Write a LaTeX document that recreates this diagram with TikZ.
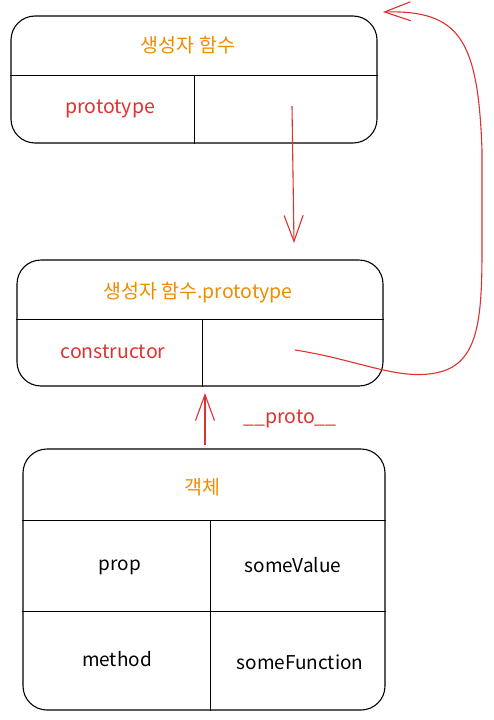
\documentclass[tikz,border=0pt]{standalone}
\usepackage{fontspec}
\setmainfont{Noto Sans CJK KR}
\usetikzlibrary{arrows.meta,positioning}
\definecolor{exred}{HTML}{E03131}
\definecolor{exorange}{HTML}{F08C00}

\begin{document}
\begin{tikzpicture}[
  x=1pt, y=-1pt,
  box/.style={draw, rounded corners=24pt, line width=1.1pt, inner sep=0pt},
  title/.style={font=\fontsize{19.5}{22}\selectfont, text=exorange},
  key/.style={font=\fontsize{19.5}{22}\selectfont, text=exred},
  val/.style={font=\fontsize{19}{22}\selectfont},
  sep/.style={line width=1.1pt},
  arr/.style={-{Straight Barb[length=26pt, width=19pt]}, exred, line width=1.1pt}
]
\fill[white] (0,0) rectangle (494,720);
\useasboundingbox (0,0) rectangle (494,720);

% constructor function
\node[box, minimum width=366pt, minimum height=127pt] (fnbox) at (194,79.5) {};
\draw[sep] ([yshift=-60pt]fnbox.north west) -- ([yshift=-60pt]fnbox.north east);
\draw[sep] ([xshift=184pt, yshift=-60pt]fnbox.north west) -- ([xshift=184pt]fnbox.south west);
\node[title] (fntitle) at (188,45) {생성자 함수};
\node[key] (fnkey) at (110,109) {prototype};

% prototype object
\node[box, minimum width=366pt, minimum height=126pt] (protobox) at (200,323) {};
\draw[sep] ([yshift=-60pt]protobox.north west) -- ([yshift=-60pt]protobox.north east);
\draw[sep] ([xshift=186pt, yshift=-60pt]protobox.north west) -- ([xshift=186pt]protobox.south west);
\node[title] (prototitle) at (198,293) {생성자 함수.prototype};
\node[key] (protokey) at (113,352) {constructor};

% instance
\node[box, minimum width=362pt, minimum height=261pt] (objbox) at (204,579.5) {};
\draw[sep] ([yshift=-72pt]objbox.north west) -- ([yshift=-72pt]objbox.north east);
\draw[sep] ([yshift=-163pt]objbox.north west) -- ([yshift=-163pt]objbox.north east);
\draw[sep] ([xshift=188pt, yshift=-72pt]objbox.north west) -- ([xshift=188pt]objbox.south west);
\node[title] (objtitle) at (202,487) {객체};
\node[val] (propkey) at (120,567) {prop};
\node[val] (propval) at (293,565) {someValue};
\node[val] (methkey) at (117,659) {method};
\node[val] (methval) at (300,662) {someFunction};

% links
\coordinate (fnref) at (292,106);
\coordinate (fnrefend) at (294,243);
\coordinate (protoref) at (295,350);
\coordinate (fntop) at (383,12);
\coordinate (objup) at (205,445);
\coordinate (protoin) at (205,393);

\draw[arr] (fnref) -- (fnrefend);
\draw[arr] (objup) -- (protoin);
\node[key] (protolink) at (290,419) {\_\_proto\_\_};
\draw[arr] (protoref) .. controls (360,360) and (400,382) .. (440,372)
  .. controls (478,362) and (482,320) .. (482,250) -- (482,150)
  .. controls (478,40) and (460,10) .. (fntop);
\end{tikzpicture}
\end{document}
